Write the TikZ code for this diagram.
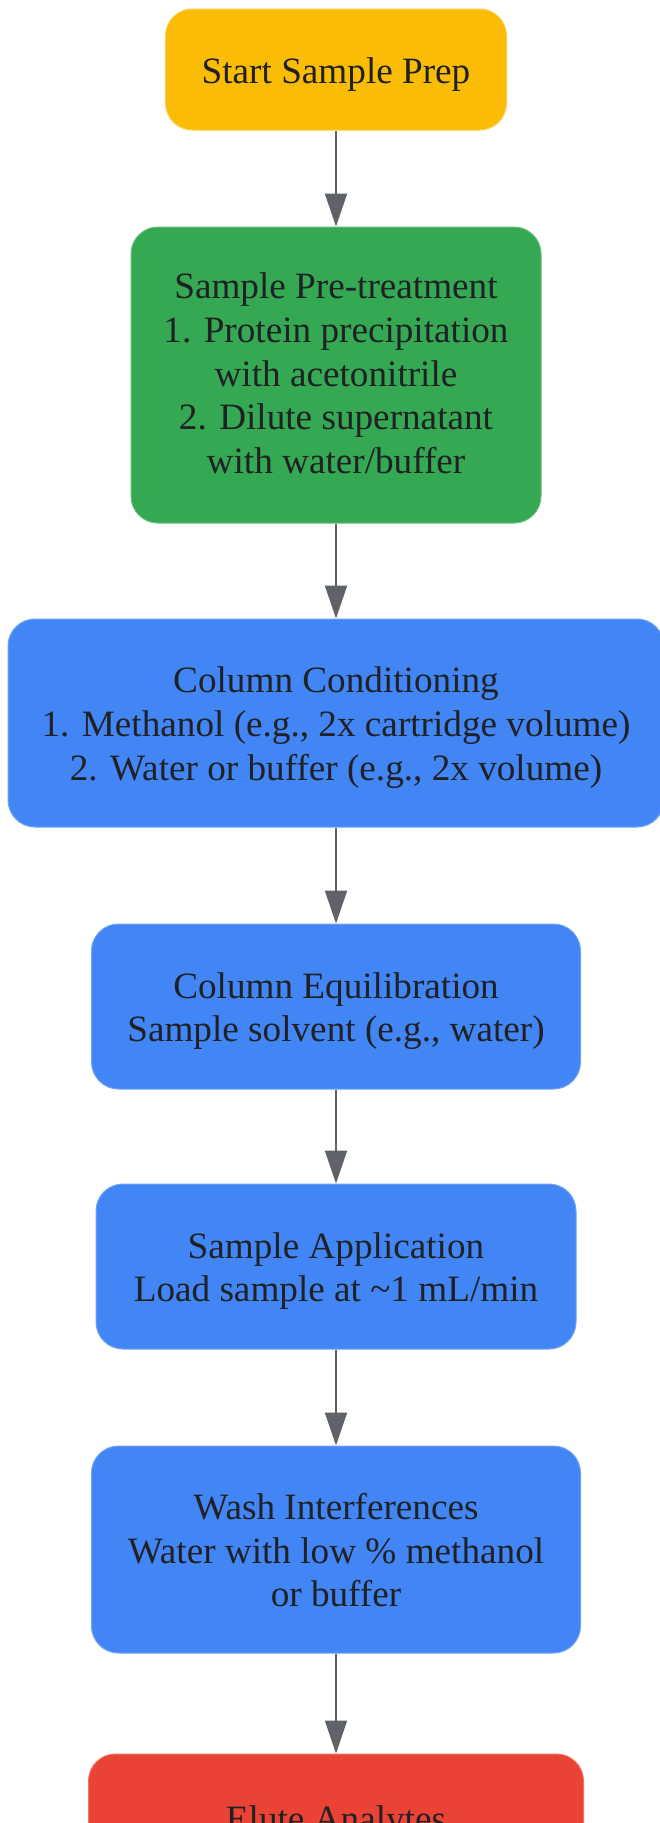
\documentclass[tikz,border=0pt]{standalone}
\usepackage{fontspec}
\setmainfont{Liberation Serif}
\usetikzlibrary{arrows.meta}
\definecolor{cyellow}{HTML}{FBBC05}
\definecolor{cgreen}{HTML}{34A853}
\definecolor{cblue}{HTML}{4285F4}
\definecolor{cred}{HTML}{EA4335}
\definecolor{ctext}{HTML}{202124}
\definecolor{carrow}{HTML}{5F6368}
\newcommand{\fstrut}{\rule{0pt}{37pt}}
\newcommand{\lstrut}{\rule[-10pt]{0pt}{10pt}}
\newcommand{\pstrut}{\rule{0pt}{32pt}}
\begin{document}
\begin{tikzpicture}[x=1pt,y=-1pt,
  box/.style={rounded corners=27pt, align=center, text=ctext,
    font=\fontsize{37.2}{43.8}\selectfont, inner sep=0pt, line width=1pt},
  ybox/.style={box, fill=cyellow, draw=cyellow!75!white},
  gbox/.style={box, fill=cgreen, draw=cgreen!75!white},
  bbox/.style={box, fill=cblue, draw=cblue!75!white},
  rbox/.style={box, fill=cred, draw=cred!75!white},
  flow/.style={draw=carrow, line width=2pt, -{Triangle[length=33pt,width=22pt]}}]
\clip (0,0) rectangle (660,1823);
\fill[white] (0,0) rectangle (660,1823);
\node[ybox, minimum width=341pt, minimum height=121pt] (start) at (336,69.5)
  {\fstrut Start Sample Prep\lstrut};
\node[gbox, minimum width=410pt, minimum height=296pt] (pre) at (336,375)
  {\pstrut Sample Pre-treatment\\1. Protein precipitation\\with acetonitrile\\2. Dilute supernatant\\with water/buffer\lstrut};
\node[bbox, minimum width=656pt, minimum height=208pt] (cond) at (336,723)
  {\fstrut Column Conditioning\\1. Methanol (e.g., 2x cartridge volume)\\2. Water or buffer (e.g., 2x volume)\lstrut};
\node[bbox, minimum width=489pt, minimum height=165pt] (equil) at (336,1006.5)
  {\fstrut Column Equilibration\\Sample solvent (e.g., water)\lstrut};
\node[bbox, minimum width=480pt, minimum height=165pt] (app) at (336,1266.5)
  {\fstrut Sample Application\\Load sample at \textasciitilde1 mL/min\lstrut};
\node[bbox, minimum width=489pt, minimum height=207pt] (wash) at (336,1549.5)
  {\fstrut Wash Interferences\\Water with low \% methanol\\or buffer\lstrut};
\node[rbox, minimum width=495pt, minimum height=208pt] (elute) at (336,1858) {};
\node[anchor=base, text=ctext, font=\fontsize{37.2}{43.8}\selectfont, inner sep=0pt] (elutetxt) at (336,1831.5) {Elute Analytes};
\draw[flow] (start) -- (pre);
\draw[flow] (pre) -- (cond);
\draw[flow] (cond) -- (equil);
\draw[flow] (equil) -- (app);
\draw[flow] (app) -- (wash);
\draw[flow] (wash) -- (elute);
\end{tikzpicture}
\end{document}
